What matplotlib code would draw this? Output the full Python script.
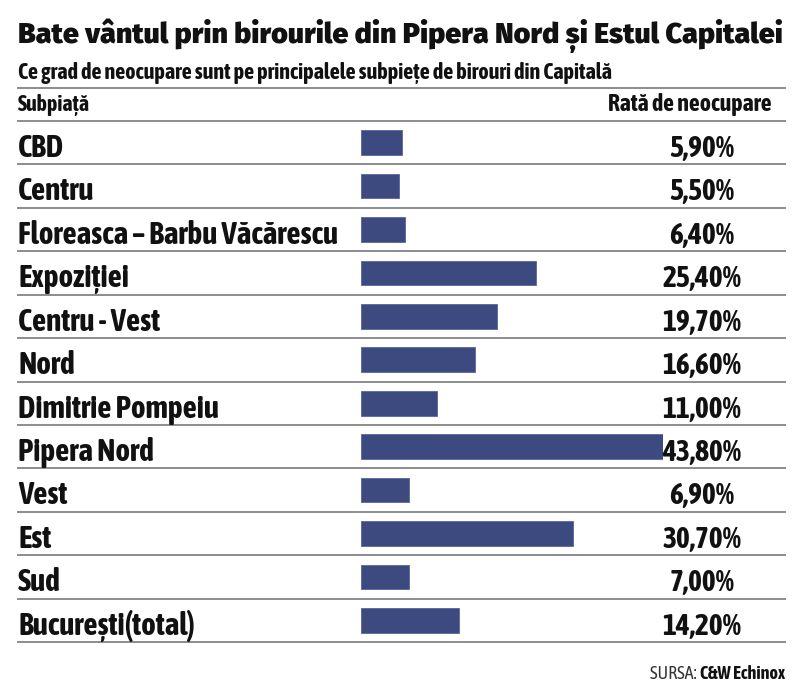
import matplotlib
matplotlib.use("Agg")
import matplotlib.pyplot as plt
import matplotlib.font_manager as fm
import matplotlib.transforms as mtrans
from matplotlib.lines import Line2D
from matplotlib.textpath import TextPath
from matplotlib.ft2font import FT2Font
import numpy as np

# ---------------- data ----------------
title = "Bate vântul prin birourile din Pipera Nord și Estul Capitalei"
subtitle = "Ce grad de neocupare sunt pe principalele subpiețe de birouri din Capitală"
header_left = "Subpiață"
header_right = "Rată de neocupare"
categories = ["CBD", "Centru", "Floreasca – Barbu Văcărescu", "Expoziției",
              "Centru - Vest", "Nord", "Dimitrie Pompeiu", "Pipera Nord",
              "Vest", "Est", "Sud", "București(total)"]
values = [5.9, 5.5, 6.4, 25.4, 19.7, 16.6, 11.0, 43.8, 6.9, 30.7, 7.0, 14.2]
source_label = "SURSA: "
source_name = "C&W Echinox"

BAR_COLOR = "#3d4a80"
LINE_COLOR = "#8c8c8c"
TEXT_COLOR = "#111111"

W, H = 800, 693


def fx(px):
    return px / W


def fy(py):
    return 1 - py / H


# ---------------- fonts ----------------
def _w(v):
    if isinstance(v, (int, float)):
        return v
    return fm.weight_dict.get(str(v), 400)


NEEDED = "ăâțșĂȚȘ–&%"


def has_glyphs(fname):
    try:
        f = FT2Font(fname)
        return all(f.get_char_index(ord(c)) != 0 for c in NEEDED)
    except Exception:
        return False


def candidates(wmin, wmax):
    seen = set()
    out = []
    for f in fm.fontManager.ttflist:
        if f.style != "normal" or f.fname in seen:
            continue
        if not f.fname.lower().endswith((".ttf", ".otf")):
            continue
        w = _w(f.weight)
        if wmin <= w <= wmax and has_glyphs(f.fname):
            seen.add(f.fname)
            out.append((f.fname, w))
    return out


def ratio(fname, text):
    fp = fm.FontProperties(fname=fname)
    cap = TextPath((0, 0), "H", size=100, prop=fp).get_extents().height
    wid = TextPath((0, 0), text, size=100, prop=fp).get_extents().width
    return wid / cap


def choose(text, target_w, target_cap, wmin, wmax, prefer_w, wpen):
    best = None
    tr = target_w / target_cap
    for fname, w in candidates(wmin, wmax):
        try:
            r = ratio(fname, text)
        except Exception:
            continue
        err = abs(np.log(r / tr)) + wpen * abs(w - prefer_w)
        if best is None or err < best[0]:
            best = (err, fname)
    if best is None:
        return fm.FontProperties(family="DejaVu Sans", weight="bold")
    return fm.FontProperties(fname=best[1])


fp_bold = choose(categories[2], 319, 21.7, 600, 800, 700, 0.0002)
fp_heavy = choose(title, 765, 20.0, 800, 1000, 900, 0.0004)
bold_file = fp_bold.get_file()
fp_reg = fm.FontProperties(fname=bold_file)
# try to find a regular weight of the same family
try:
    fam = FT2Font(bold_file).family_name
    for f in fm.fontManager.ttflist:
        if f.name == fam and f.style == "normal" and _w(f.weight) == 400:
            fp_reg = fm.FontProperties(fname=f.fname)
            break
except Exception:
    pass

# ---------------- figure ----------------
fig = plt.figure(figsize=(8, 6.93), dpi=100)
fig.patch.set_facecolor("white")
renderer = fig.canvas.get_renderer()


def fit(t, target_px):
    w = t.get_window_extent(renderer=renderer).width
    t.set_fontsize(t.get_fontsize() * target_px / w)
    return t


n = len(categories)
ax = fig.add_axes([fx(361), fy(642), fx(663) - fx(361), (642 - 121) / H])
ax.barh(np.arange(n), values, height=0.57, color=BAR_COLOR,
        edgecolor="#5a659c", linewidth=0.6)
ax.set_xlim(0, 43.8)
ax.set_ylim(n - 0.5, -0.5)
ax.axis("off")

blend = mtrans.blended_transform_factory(fig.transFigure, ax.transData)

# title & subtitle
t = fig.text(fx(18), fy(43), title, fontproperties=fp_heavy, fontsize=20,
             color=TEXT_COLOR, ha="left", va="baseline")
fit(t, 765)
t = fig.text(fx(18), fy(79), subtitle, fontproperties=fp_bold, fontsize=14,
             color=TEXT_COLOR, ha="left", va="baseline")
fit(t, 595)

# header
t = fig.text(fx(18), fy(111), header_left, fontproperties=fp_bold, fontsize=14,
             color=TEXT_COLOR, ha="left", va="baseline")
fit(t, 72)
t = fig.text(fx(772), fy(111), header_right, fontproperties=fp_bold, fontsize=14,
             color=TEXT_COLOR, ha="right", va="baseline")
fit(t, 164)

# lines
fig.add_artist(Line2D([fx(18), fx(785)], [fy(88), fy(88)], color=LINE_COLOR, lw=1.4))
for y in np.arange(-0.5, n, 1.0):
    ax.plot([fx(18), fx(785)], [y, y], transform=blend, color=LINE_COLOR,
            lw=1.4, clip_on=False)

# row labels
ref = ax.text(fx(18), 2 + 0.33, categories[2], transform=blend,
              fontproperties=fp_bold, fontsize=20, ha="left", va="baseline")
fit(ref, 319)
label_size = ref.get_fontsize()
ref.remove()

refv = ax.text(fx(702), 7 + 0.33, "43,80%", transform=blend,
               fontproperties=fp_bold, fontsize=20, ha="center", va="baseline")
fit(refv, 79)
value_size = refv.get_fontsize()
refv.remove()

for i, (cat, v) in enumerate(zip(categories, values)):
    ax.text(fx(18), i + 0.33, cat, transform=blend, fontproperties=fp_bold,
            fontsize=label_size, color=TEXT_COLOR, ha="left", va="baseline")
    lab = f"{v:.2f}%".replace(".", ",")
    ax.text(fx(702), i + 0.33, lab, transform=blend, fontproperties=fp_bold,
            fontsize=value_size, color=TEXT_COLOR, ha="center", va="baseline")

# source
sb = fig.text(fx(785), fy(679), source_name, fontproperties=fp_bold, fontsize=10,
              color=TEXT_COLOR, ha="right", va="baseline")
fit(sb, 85)
x_left = sb.get_window_extent(renderer=renderer).x0
fig.text(x_left / W, fy(679), source_label, fontproperties=fp_reg,
         fontsize=sb.get_fontsize(), color="#333333", ha="right", va="baseline")

fig.savefig("out.png", dpi=100, facecolor="white")
